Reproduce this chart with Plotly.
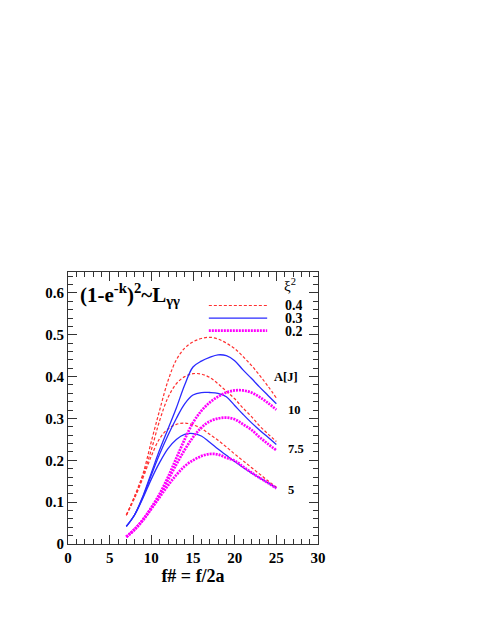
import plotly.graph_objects as go

# f-number axis
f_num = [7, 8, 9, 10, 11, 12, 13, 14, 15, 16, 17, 18, 19, 20, 21, 22, 23, 24, 25]

# xi^2 = 0.4 (red dashed), laser energy A = 10, 7.5, 5 J
red_10 = [0.069, 0.115, 0.168, 0.245, 0.32, 0.39, 0.44, 0.468, 0.483, 0.491, 0.494,
          0.49, 0.48, 0.467, 0.448, 0.427, 0.403, 0.377, 0.349]
red_75 = [0.069, 0.113, 0.163, 0.225, 0.295, 0.35, 0.383, 0.4, 0.407, 0.406, 0.398,
          0.383, 0.365, 0.347, 0.325, 0.305, 0.282, 0.263, 0.245]
red_5 = [0.069, 0.11, 0.158, 0.21, 0.252, 0.275, 0.286, 0.289, 0.285, 0.276, 0.262,
         0.248, 0.232, 0.215, 0.199, 0.183, 0.167, 0.151, 0.136]

# xi^2 = 0.3 (blue solid)
blue_10 = [0.042, 0.07, 0.115, 0.17, 0.225, 0.275, 0.325, 0.38, 0.423, 0.437, 0.446,
           0.452, 0.45, 0.438, 0.416, 0.396, 0.375, 0.355, 0.335]
blue_75 = [0.042, 0.07, 0.113, 0.165, 0.215, 0.26, 0.3, 0.335, 0.356, 0.362, 0.362,
           0.36, 0.352, 0.331, 0.31, 0.29, 0.272, 0.255, 0.238]
blue_5 = [0.042, 0.07, 0.11, 0.155, 0.195, 0.228, 0.25, 0.262, 0.264, 0.258, 0.243,
          0.227, 0.212, 0.197, 0.183, 0.17, 0.158, 0.146, 0.134]

# xi^2 = 0.2 (magenta dotted)
mag_10 = [0.017, 0.035, 0.058, 0.087, 0.12, 0.16, 0.205, 0.25, 0.29, 0.318, 0.338,
          0.352, 0.362, 0.367, 0.367, 0.362, 0.351, 0.337, 0.321]
mag_75 = [0.017, 0.035, 0.058, 0.086, 0.117, 0.153, 0.19, 0.225, 0.255, 0.278, 0.293,
          0.3, 0.302, 0.298, 0.286, 0.273, 0.255, 0.239, 0.224]
mag_5 = [0.017, 0.035, 0.057, 0.084, 0.112, 0.14, 0.165, 0.186, 0.2, 0.21, 0.215,
         0.214, 0.206, 0.199, 0.185, 0.171, 0.158, 0.146, 0.133]

xi_labels = ["0.4", "0.3", "0.2"]
energy_labels = ["10", "7.5", "5"]

serif = "Liberation Serif, Times New Roman, serif"
key_font = dict(family=serif, size=14, color="black", weight="bold")
lab_font = dict(family=serif, size=12.5, color="black", weight="bold")

styles = [
    dict(color="#ff3030", width=1.2, dash="3px,2px"),
    dict(color="#2a2aff", width=1.3),
    dict(color="#ff00ff", width=2.7, dash="2px,1px"),
]
groups = [[red_10, red_75, red_5], [blue_10, blue_75, blue_5], [mag_10, mag_75, mag_5]]

fig = go.Figure()
for name, curves, line in zip(xi_labels, groups, styles):
    for ys in curves:
        fig.add_trace(go.Scatter(x=f_num, y=ys, mode="lines", line_shape="spline",
                                 line=dict(line), name=name, showlegend=False))

# hand-drawn key, like the original
key_y = [0.57, 0.54, 0.51]
for lab, line, ky in zip(xi_labels, styles, key_y):
    fig.add_shape(type="line", x0=16.9, x1=23.9, y0=ky, y1=ky, line=dict(line))
    fig.add_annotation(x=25.85, y=ky, text=lab, showarrow=False, xanchor="left",
                       height=12, font=key_font)
fig.add_annotation(x=25.7, y=0.62, text="ξ<sup>2</sup>", showarrow=False,
                   xanchor="left", font=dict(family=serif, size=15, color="black"))

# energy labels at the right end of the curves
energy_y = [0.32, 0.226, 0.129]
for lab, yv in zip(energy_labels, energy_y):
    fig.add_annotation(x=26.1, y=yv, text=lab, showarrow=False,
                       xanchor="left", font=lab_font)
fig.add_annotation(x=24.5, y=0.40, text="A[J]", showarrow=False,
                   xanchor="left", font=lab_font)

fig.add_annotation(x=1.2, y=0.597, xanchor="left",
                   text="(1-e<sup>-k</sup>)<sup>2</sup>~L<sub>γγ</sub>",
                   showarrow=False, font=dict(family=serif, size=21, color="black", weight="bold"))

axis_common = dict(
    showline=True, linecolor="#333333", linewidth=1, mirror="ticks",
    ticks="inside", ticklen=9, tickcolor="#333333", showgrid=False, zeroline=False,
    automargin=False, tickfont=dict(family=serif, size=15, color="black", weight="bold"),
)

fig.update_xaxes(range=[0, 30], dtick=5, tickformat="d",
                 minor=dict(dtick=1, ticks="inside", ticklen=5, tickcolor="#333333"),
                 title=dict(text="f# = f/2a", standoff=1,
                            font=dict(family=serif, size=18, color="black", weight="bold")),
                 **axis_common)
fig.update_yaxes(range=[0, 0.65], dtick=0.1, tickformat="~g",
                 minor=dict(dtick=0.02, ticks="inside", ticklen=5, tickcolor="#333333"),
                 **axis_common)

# page body adds an 8px offset, so margins are reduced by that much
fig.update_layout(
    width=483, height=627,
    margin=dict(l=60, r=173, t=264, b=91),
    plot_bgcolor="white", paper_bgcolor="white",
    font=dict(family=serif, color="black"),
    showlegend=False,
)

fig.write_html("out.html")
